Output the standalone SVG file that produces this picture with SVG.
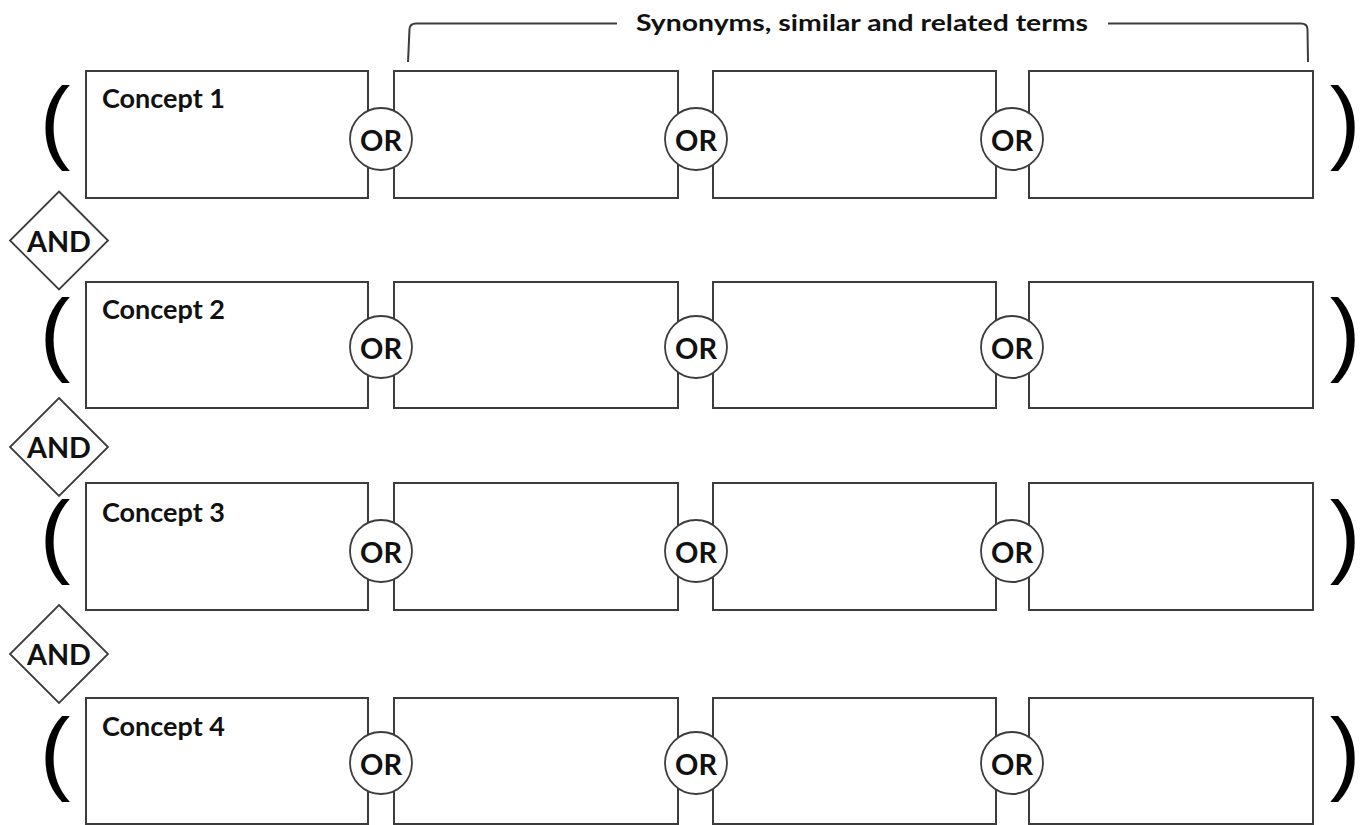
<svg xmlns="http://www.w3.org/2000/svg" width="1361" height="825" viewBox="0 0 1361 825">
<style>
.box{fill:#fff;stroke:#3c3c3c;stroke-width:2}
.or{fill:#fff;stroke:#3c3c3c;stroke-width:1.8}
.and{fill:#fff;stroke:#3c3c3c;stroke-width:1.8}
.lbl{font-family:Lato,"Liberation Sans",sans-serif;font-weight:bold;fill:#111}
.cpt{font-size:26px}
.op{font-size:28px;text-anchor:middle}
.par{font-family:"Liberation Sans",Arial,sans-serif;font-size:92px;fill:#000;text-anchor:middle}
.brk{fill:none;stroke:#3c3c3c;stroke-width:2}
</style>
<rect width="1361" height="825" fill="#fff"/>
<g id="bracket">
<path class="brk" d="M408,62 L409.5,29 Q410,23.5 416,23.5 L617,23.5"/>
<path class="brk" d="M1108,23.5 L1301,23.5 Q1307,23.5 1307.5,29 L1308,62"/>
<text class="lbl" x="636" y="31" font-size="22.5" textLength="452" lengthAdjust="spacingAndGlyphs">Synonyms, similar and related terms</text>
</g>
<g id="connectors"></g>
<!-- Row 1 -->
<g id="row1">
<text class="par" x="55" y="151.6">(</text>
<text class="par" x="1345" y="151.6">)</text>
<g id="concept1"><rect class="box" x="86" y="71" width="282" height="127"/><text class="lbl cpt" x="102" y="108.3" textLength="123" lengthAdjust="spacingAndGlyphs">Concept 1</text></g>
<g id="term1a"><rect class="box" x="394" y="71" width="284" height="127"/></g>
<g id="term1b"><rect class="box" x="713" y="71" width="283" height="127"/></g>
<g id="term1c"><rect class="box" x="1029" y="71" width="284" height="127"/></g>
<g id="or1a"><circle class="or" cx="381" cy="139" r="31"/><text class="lbl op" x="381" y="151" textLength="42" lengthAdjust="spacingAndGlyphs">OR</text></g>
<g id="or1b"><circle class="or" cx="696" cy="139" r="31"/><text class="lbl op" x="696" y="151" textLength="42" lengthAdjust="spacingAndGlyphs">OR</text></g>
<g id="or1c"><circle class="or" cx="1012" cy="139" r="31"/><text class="lbl op" x="1012" y="151" textLength="42" lengthAdjust="spacingAndGlyphs">OR</text></g>
</g>
<g id="and1"><path class="and" d="M59,191.5 L108,240.5 L59,289.5 L10,240.5 Z"/><text class="lbl op" x="59" y="251.5" textLength="64" lengthAdjust="spacingAndGlyphs">AND</text></g>
<!-- Row 2 -->
<g id="row2">
<text class="par" x="55" y="364">(</text>
<text class="par" x="1345" y="364">)</text>
<g id="concept2"><rect class="box" x="86" y="282" width="282" height="126"/><text class="lbl cpt" x="102" y="319" textLength="123" lengthAdjust="spacingAndGlyphs">Concept 2</text></g>
<g id="term2a"><rect class="box" x="394" y="282" width="284" height="126"/></g>
<g id="term2b"><rect class="box" x="713" y="282" width="283" height="126"/></g>
<g id="term2c"><rect class="box" x="1029" y="282" width="284" height="126"/></g>
<g id="or2a"><circle class="or" cx="381" cy="347" r="31"/><text class="lbl op" x="381" y="359" textLength="42" lengthAdjust="spacingAndGlyphs">OR</text></g>
<g id="or2b"><circle class="or" cx="696" cy="347" r="31"/><text class="lbl op" x="696" y="359" textLength="42" lengthAdjust="spacingAndGlyphs">OR</text></g>
<g id="or2c"><circle class="or" cx="1012" cy="347" r="31"/><text class="lbl op" x="1012" y="359" textLength="42" lengthAdjust="spacingAndGlyphs">OR</text></g>
</g>
<g id="and2"><path class="and" d="M59,398 L108,447 L59,496 L10,447 Z"/><text class="lbl op" x="59" y="457.5" textLength="64" lengthAdjust="spacingAndGlyphs">AND</text></g>
<!-- Row 3 -->
<g id="row3">
<text class="par" x="55" y="565.6">(</text>
<text class="par" x="1345" y="565.6">)</text>
<g id="concept3"><rect class="box" x="86" y="483" width="282" height="127"/><text class="lbl cpt" x="102" y="521.5" textLength="123" lengthAdjust="spacingAndGlyphs">Concept 3</text></g>
<g id="term3a"><rect class="box" x="394" y="483" width="284" height="127"/></g>
<g id="term3b"><rect class="box" x="713" y="483" width="283" height="127"/></g>
<g id="term3c"><rect class="box" x="1029" y="483" width="284" height="127"/></g>
<g id="or3a"><circle class="or" cx="381" cy="551" r="31"/><text class="lbl op" x="381" y="563" textLength="42" lengthAdjust="spacingAndGlyphs">OR</text></g>
<g id="or3b"><circle class="or" cx="696" cy="551" r="31"/><text class="lbl op" x="696" y="563" textLength="42" lengthAdjust="spacingAndGlyphs">OR</text></g>
<g id="or3c"><circle class="or" cx="1012" cy="551" r="31"/><text class="lbl op" x="1012" y="563" textLength="42" lengthAdjust="spacingAndGlyphs">OR</text></g>
</g>
<g id="and3"><path class="and" d="M59,605 L108,654 L59,703 L10,654 Z"/><text class="lbl op" x="59" y="665" textLength="64" lengthAdjust="spacingAndGlyphs">AND</text></g>
<!-- Row 4 -->
<g id="row4">
<text class="par" x="55" y="783">(</text>
<text class="par" x="1345" y="783">)</text>
<g id="concept4"><rect class="box" x="86" y="698" width="282" height="126"/><text class="lbl cpt" x="102" y="735.5" textLength="123" lengthAdjust="spacingAndGlyphs">Concept 4</text></g>
<g id="term4a"><rect class="box" x="394" y="698" width="284" height="126"/></g>
<g id="term4b"><rect class="box" x="713" y="698" width="283" height="126"/></g>
<g id="term4c"><rect class="box" x="1029" y="698" width="284" height="126"/></g>
<g id="or4a"><circle class="or" cx="381" cy="763" r="31"/><text class="lbl op" x="381" y="775" textLength="42" lengthAdjust="spacingAndGlyphs">OR</text></g>
<g id="or4b"><circle class="or" cx="696" cy="763" r="31"/><text class="lbl op" x="696" y="775" textLength="42" lengthAdjust="spacingAndGlyphs">OR</text></g>
<g id="or4c"><circle class="or" cx="1012" cy="763" r="31"/><text class="lbl op" x="1012" y="775" textLength="42" lengthAdjust="spacingAndGlyphs">OR</text></g>
</g>
</svg>
